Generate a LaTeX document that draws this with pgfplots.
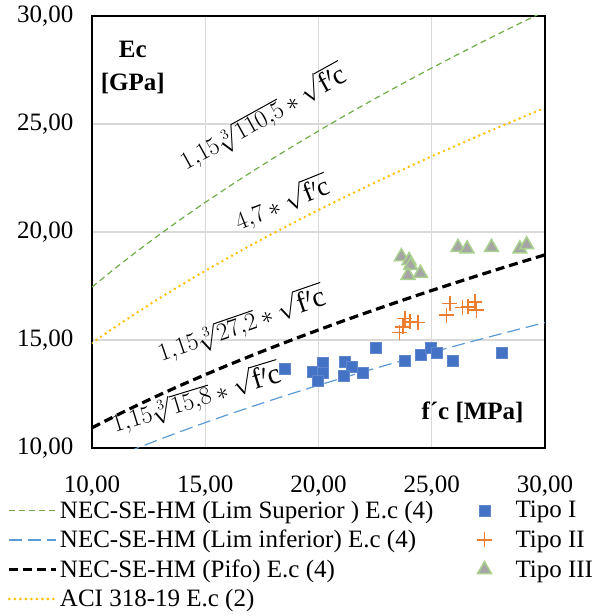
\documentclass[border=0pt]{standalone}
\usepackage{pgfplots}
\pgfplotsset{compat=1.18}
\usepackage{fontspec}
\setmainfont{Liberation Serif}
\definecolor{cSup}{HTML}{70AD47}
\definecolor{cInf}{HTML}{5B9BD5}
\definecolor{cACI}{HTML}{FFC000}
\definecolor{cT1}{HTML}{4472C4}
\definecolor{cT2}{HTML}{ED7D31}
\definecolor{cT3}{HTML}{A5A5A5}
\definecolor{cT3e}{HTML}{A9D18E}
\definecolor{cGrid}{HTML}{D9D9D9}
\pgfplotsset{
  longline/.style={legend image code/.code={\draw[##1] (0pt,0pt) -- (47pt,0pt);}},
  centermark/.style={legend image code/.code={\path[draw=none,fill=none] (0pt,-1pt) rectangle (58pt,1pt); \draw[##1] plot coordinates {(29pt,0pt)};}},
}
\begin{document}
\begin{tikzpicture}
\begin{axis}[
  at={(0pt,0pt)}, anchor=south west,
  scale only axis, width=453pt, height=432pt,
  xmin=10, xmax=30, ymin=10, ymax=30,
  xtick={10,15,20,25,30}, ytick={10,15,20,25,30},
  xticklabels={{10,00},{15,00},{20,00},{25,00},{30,00}},
  yticklabels={{10,00},{15,00},{20,00},{25,00},{30,00}},
  grid=major, major grid style={cGrid, line width=1.2pt},
  axis line style={line width=1.5pt},
  tick style={draw=none},
  font=\fontsize{25}{29}\selectfont,
  xticklabel style={yshift=-24pt},
  yticklabel style={xshift=-15pt},
  legend columns=2,
  legend cell align=left,
  legend style={at={(axis description cs:-0.193,-0.113)}, anchor=north west,
    draw=none, fill=none, font=\fontsize{25}{29}\selectfont,
    row sep=6.5pt, /tikz/every even column/.append style={column sep=20pt}},
]
% Lim Superior
\addplot[cSup, line width=1.2pt, dash pattern=on 6pt off 4pt, longline] coordinates {
(10,17.451) (11,18.303) (12,19.117) (13,19.898) (14,20.649) (15,21.373)
(16,22.074) (17,22.753) (18,23.413) (19,24.055) (20,24.680) (21,25.289)
(22,25.884) (23,26.466) (24,27.035) (25,27.593) (26,28.139) (27,28.675)
(28,29.201) (29,29.718) (30,30.226)};
\addlegendentry{NEC-SE-HM (Lim Superior ) E.c (4)}
% Tipo I
\addplot[only marks, mark=square*, mark size=5.5pt, mark options={fill=cT1, draw=cT1!85!white, line width=0.6pt}, centermark] coordinates {
(18.53,13.65) (20.19,13.93) (19.75,13.54) (20.19,13.47) (19.97,13.13)
(21.15,13.97) (21.49,13.74) (21.11,13.36) (21.96,13.50) (22.52,14.62)
(23.81,14.05) (24.50,14.31) (24.96,14.62) (25.21,14.43) (25.94,14.05)
(28.08,14.43)};
\addlegendentry{Tipo I}
% Lim inferior
\addplot[cInf, line width=1.2pt, dash pattern=on 13pt off 6pt, longline] coordinates {
(10,9.125) (11,9.571) (12,9.997) (13,10.405) (14,10.798) (15,11.176)
(16,11.543) (17,11.898) (18,12.243) (19,12.579) (20,12.905) (21,13.224)
(22,13.535) (23,13.839) (24,14.137) (25,14.429) (26,14.714) (27,14.995)
(28,15.270) (29,15.540) (30,15.806)};
\addlegendentry{NEC-SE-HM (Lim inferior) E.c (4)}
% Tipo II
\addplot[only marks, mark=+, mark size=7.5pt, mark options={draw=cT2, line width=1.5pt}, centermark] coordinates {
(23.58,15.34) (23.73,15.61) (23.81,16.00) (24.03,15.84) (24.39,15.81)
(25.65,16.15) (25.80,16.69) (26.36,16.50) (26.61,16.53) (26.90,16.76)
(26.98,16.38)};
\addlegendentry{Tipo II}
% Pifo
\addplot[black, line width=3.2pt, dash pattern=on 9pt off 5pt, longline] coordinates {
(10,10.937) (11,11.470) (12,11.981) (13,12.470) (14,12.941) (15,13.395)
(16,13.834) (17,14.260) (18,14.673) (19,15.075) (20,15.467) (21,15.849)
(22,16.222) (23,16.586) (24,16.943) (25,17.293) (26,17.635) (27,17.971)
(28,18.301) (29,18.625) (30,18.943)};
\addlegendentry{NEC-SE-HM (Pifo) E.c (4)}
% Tipo III
\addplot[only marks, mark=triangle*, mark size=8pt, mark options={fill=cT3, draw=cT3e, line width=1.5pt}, centermark] coordinates {
(23.66,18.86) (24.00,18.68) (24.06,18.45) (23.95,17.99) (24.50,18.09)
(26.16,19.29) (26.56,19.22) (27.64,19.29) (28.89,19.22) (29.19,19.41)};
\addlegendentry{Tipo III}
% ACI
\addplot[cACI, line width=2.8pt, line cap=round, dash pattern=on 0pt off 5.5pt, longline] coordinates {
(10,14.863) (11,15.588) (12,16.281) (13,16.946) (14,17.586) (15,18.203)
(16,18.800) (17,19.379) (18,19.940) (19,20.487) (20,21.019) (21,21.538)
(22,22.045) (23,22.540) (24,23.025) (25,23.500) (26,23.965) (27,24.422)
(28,24.870) (29,25.310) (30,25.743)};
\addlegendentry{ACI 318-19 E.c (2)}

\node[font=\fontsize{25}{33}\selectfont\bfseries, align=center] at (axis cs:11.8,27.6) {Ec\\{[GPa]}};
\node[font=\fontsize{25}{29}\selectfont\bfseries] at (axis cs:26.8,11.65) {f´c [MPa]};
\node[rotate=29, font=\fontsize{28}{32}\selectfont] at (axis cs:17.55,25.3) {$1{,}15\sqrt[3]{110{,}5} * \sqrt{\mathrm{f}'\mathrm{c}}$};
\node[rotate=22, font=\fontsize{27}{31}\selectfont] at (axis cs:18.39,21.35) {$4{,}7 * \sqrt{\mathrm{f}'\mathrm{c}}$};
\node[rotate=19, font=\fontsize{29}{33}\selectfont] at (axis cs:16.6,15.74) {$1{,}15\sqrt[3]{27{,}2} * \sqrt{\mathrm{f}'\mathrm{c}}$};
\node[rotate=17, font=\fontsize{29}{33}\selectfont] at (axis cs:14.6,12.3) {$1{,}15\sqrt[3]{15{,}8} * \sqrt{\mathrm{f}'\mathrm{c}}$};
\end{axis}
\pgfresetboundingbox
\path[use as bounding box] (-92pt,-168pt) rectangle (513pt,448pt);
\end{tikzpicture}
\end{document}
